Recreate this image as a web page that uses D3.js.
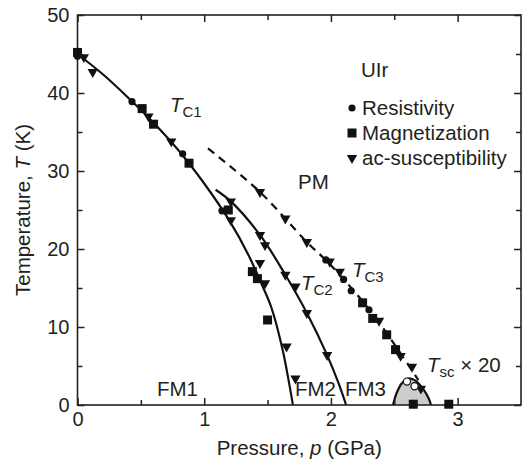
<!DOCTYPE html>
<html>
<head>
<meta charset="utf-8">
<script src="https://cdn.jsdelivr.net/npm/d3@7"></script>
<style>
body { margin: 0; background: #fff; }
text { font-family: "Liberation Sans", Arial, sans-serif; fill: #231f20; }
</style>
</head>
<body>
<svg id="chart" width="525" height="461"></svg>
<script>
// markers (pressure in GPa, temperature in K)
var resistivityP = [0, 0.43, 0.83, 1.14, 1.96, 2.10, 2.16, 2.30];
var resistivityT = [44.7, 38.9, 32.2, 24.9, 18.6, 16.1, 14.65, 12.2];

var magnetizationP = [0, 0.51, 0.60, 0.88, 1.19, 1.38, 1.42, 1.50, 2.25, 2.33, 2.44, 2.51, 2.65, 2.93];
var magnetizationT = [45.2, 38.0, 36.0, 31.0, 25.0, 17.1, 16.2, 10.9, 13.1, 11.1, 9.0, 7.1, 0.1, 0.1];

var acP = [0.05, 0.12, 0.56, 0.74, 1.21, 1.21, 1.44, 1.48, 1.44, 1.48, 1.64, 1.72, 1.81, 1.97, 1.65, 1.72, 1.44, 1.64, 1.81, 1.99, 2.07, 2.38, 2.55, 2.64, 2.71];
var acT = [44.6, 42.7, 37.0, 33.8, 26.1, 23.7, 21.8, 20.5, 18.2, 15.6, 16.7, 15.2, 11.8, 6.4, 7.5, 3.4, 27.3, 23.9, 20.9, 18.4, 17.1, 10.8, 6.3, 4.9, 2.1];

var scP = [2.60, 2.66];
var scT = [3.0, 2.4];

// transition lines
var tc1P = [0, 0.2, 0.4, 0.6, 0.8, 1.0, 1.2, 1.35, 1.45, 1.53, 1.62, 1.67, 1.70];
var tc1T = [45, 42.4, 39.4, 36.2, 32.6, 28.4, 23.6, 19.2, 15.6, 12.5, 7.0, 2.8, 0];
var tc2P = [1.09, 1.21, 1.44, 1.64, 1.81, 1.97, 2.06, 2.12];
var tc2T = [27.6, 26.1, 21.8, 16.7, 11.8, 6.4, 2.8, 0];
var tc3P = [1.03, 1.44, 1.81, 2.0, 2.3, 2.5, 2.69];
var tc3T = [32.9, 27.3, 20.9, 17.9, 12.3, 7.8, 3.2];

// superconducting dome (Tsc x 20)
var domeP = [2.49, 2.52, 2.56, 2.61, 2.67, 2.73, 2.77, 2.79];
var domeT = [0, 1.6, 2.8, 3.4, 3.1, 2.0, 0.9, 0];

var xMajor = [0, 1, 2, 3];
var xMinor = [0.5, 1.5, 2.5];
var yMajor = [0, 10, 20, 30, 40, 50];
var yMinor = [5, 15, 25, 35, 45];

var svg = d3.select("#chart");
var pLeft = 77.5, pRight = 521, pTop = 15, pBottom = 405;

var x = d3.scaleLinear().domain([0, 3.5]).range([pLeft, pRight]);
var y = d3.scaleLinear().domain([0, 50]).range([pBottom, pTop]);

function pts(ps, ts) { return ps.map(function(p, i) { return [p, ts[i]]; }); }

// dome
var dome = pts(domeP, domeT);
svg.append("path")
   .datum(dome)
   .attr("d", d3.area().x(function(d){return x(d[0]);}).y0(y(0)).y1(function(d){return y(d[1]);}).curve(d3.curveCatmullRom))
   .style("fill", "#cccccc");
svg.append("path")
   .datum(dome)
   .attr("d", d3.line().x(function(d){return x(d[0]);}).y(function(d){return y(d[1]);}).curve(d3.curveCatmullRom))
   .style("fill", "none").style("stroke", "#111").style("stroke-width", 2.2);

// lines
var line = d3.line().x(function(d){return x(d[0]);}).y(function(d){return y(d[1]);}).curve(d3.curveCatmullRom);
svg.append("path").datum(pts(tc1P, tc1T)).attr("d", line)
   .style("fill", "none").style("stroke", "#111").style("stroke-width", 2.2);
svg.append("path").datum(pts(tc2P, tc2T)).attr("d", line)
   .style("fill", "none").style("stroke", "#111").style("stroke-width", 2.2);
svg.append("path").datum(pts(tc3P, tc3T)).attr("d", line)
   .style("fill", "none").style("stroke", "#111").style("stroke-width", 2.2)
   .style("stroke-dasharray", "8,6");

// frame and ticks
function axisG(a, tx, ty) {
  var g = svg.append("g").attr("transform", "translate(" + tx + "," + ty + ")").call(a);
  g.select(".domain").remove();
  g.selectAll("line").style("stroke", "#222").style("stroke-width", 1.5);
  g.selectAll("text").style("font-family", "'Liberation Sans', Arial, sans-serif")
    .style("font-size", "20px").style("fill", "#231f20");
  return g;
}
axisG(d3.axisBottom(x).tickValues(xMajor).tickSize(-7).tickPadding(7).tickFormat(d3.format("d")), 0, pBottom);
axisG(d3.axisBottom(x).tickValues(xMinor).tickSize(-5).tickFormat(""), 0, pBottom);
axisG(d3.axisTop(x).tickValues(xMajor).tickSize(-7).tickFormat(""), 0, pTop);
axisG(d3.axisTop(x).tickValues(xMinor).tickSize(-5).tickFormat(""), 0, pTop);
axisG(d3.axisLeft(y).tickValues(yMajor).tickSize(-7).tickPadding(8).tickFormat(d3.format("d")), pLeft, 0);
axisG(d3.axisLeft(y).tickValues(yMinor).tickSize(-5).tickFormat(""), pLeft, 0);
axisG(d3.axisRight(y).tickValues(yMajor).tickSize(-7).tickFormat(""), pRight, 0);
axisG(d3.axisRight(y).tickValues(yMinor).tickSize(-5).tickFormat(""), pRight, 0);

svg.append("rect")
   .attr("x", pLeft).attr("y", pTop).attr("width", pRight - pLeft).attr("height", pBottom - pTop)
   .style("fill", "none").style("stroke", "#222").style("stroke-width", 1.6);

// markers
var tri = d3.symbol().type(d3.symbolTriangle).size(46);
svg.selectAll(".res").data(pts(resistivityP, resistivityT)).enter().append("circle")
   .attr("cx", function(d){return x(d[0]);}).attr("cy", function(d){return y(d[1]);})
   .attr("r", 3.6).style("fill", "#111");
svg.selectAll(".mag").data(pts(magnetizationP, magnetizationT)).enter().append("rect")
   .attr("x", function(d){return x(d[0]) - 4.5;}).attr("y", function(d){return y(d[1]) - 4.5;})
   .attr("width", 9).attr("height", 9).style("fill", "#111");
svg.selectAll(".ac").data(pts(acP, acT)).enter().append("path")
   .attr("d", tri)
   .attr("transform", function(d){return "translate(" + x(d[0]) + "," + y(d[1]) + ") rotate(180)";})
   .style("fill", "#111");
svg.selectAll(".sc").data(pts(scP, scT)).enter().append("circle")
   .attr("cx", function(d){return x(d[0]);}).attr("cy", function(d){return y(d[1]);})
   .attr("r", 3.6).style("fill", "#fff").style("stroke", "#111").style("stroke-width", 1.2);

// axis titles
svg.append("text").attr("x", (pLeft + pRight) / 2).attr("y", 455).attr("text-anchor", "middle")
   .style("font-size", "20.5px")
   .call(function(t){
     t.append("tspan").text("Pressure, ");
     t.append("tspan").style("font-style", "italic").text("p");
     t.append("tspan").text(" (GPa)");
   });
svg.append("text").attr("transform", "translate(30," + (pTop + pBottom) / 2 + ") rotate(-90)")
   .attr("text-anchor", "middle").style("font-size", "20.5px")
   .call(function(t){
     t.append("tspan").text("Temperature, ");
     t.append("tspan").style("font-style", "italic").text("T");
     t.append("tspan").text(" (K)");
   });

// annotations
function label(px, py, main, sub, rest) {
  var t = svg.append("text").attr("x", px).attr("y", py).style("font-size", "20.5px");
  t.append("tspan").style("font-style", "italic").text(main);
  t.append("tspan").attr("dy", 5).style("font-size", "15px").text(sub);
  if (rest) t.append("tspan").attr("dy", -5).text(rest);
}
label(170, 112, "T", "C1");
label(301, 290, "T", "C2");
label(352, 277, "T", "C3");
label(427, 372, "T", "sc", " \u00d7 20");

var plain = [["PM", 298, 189], ["FM1", 157, 396], ["FM2", 295, 396], ["FM3", 345, 396], ["UIr", 361, 77]];
svg.selectAll(".plain").data(plain).enter().append("text")
   .attr("x", function(d){return d[1];}).attr("y", function(d){return d[2];})
   .style("font-size", "20.5px").text(function(d){return d[0];});

// legend
var legendNames = ["Resistivity", "Magnetization", "ac-susceptibility"];
var lg = svg.selectAll(".lg").data(legendNames).enter().append("g")
   .attr("transform", function(d, i){return "translate(352," + (115 + i * 25) + ")";});
lg.append("text").attr("x", 10).attr("y", 0).style("font-size", "20.5px").text(function(d){return d;});
lg.filter(function(d, i){return i == 0;}).append("circle").attr("cx", 0).attr("cy", -7).attr("r", 3.6).style("fill", "#111");
lg.filter(function(d, i){return i == 1;}).append("rect").attr("x", -4.5).attr("y", -11.5).attr("width", 9).attr("height", 9).style("fill", "#111");
lg.filter(function(d, i){return i == 2;}).append("path").attr("d", tri).attr("transform", "translate(0,-7) rotate(180)").style("fill", "#111");
</script>
</body>
</html>
